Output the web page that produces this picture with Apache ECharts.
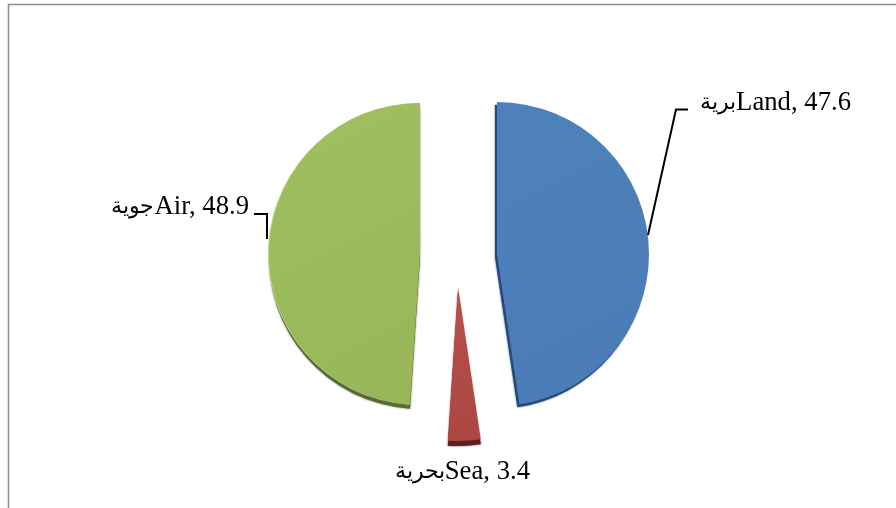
<!DOCTYPE html>
<html>
<head>
<meta charset="utf-8">
<style>html,body{margin:0;padding:0;background:#fff}#c{width:896px;height:508px}</style>
<script src="https://cdn.jsdelivr.net/npm/echarts@6/dist/echarts.min.js"></script>
</head>
<body>
<div id="c"></div>
<script>
var categoriesEn = ['Land', 'Sea', 'Air'];
var categoriesAr = ['برية', 'بحرية', 'جوية'];
var values = [47.6, 3.4, 48.9];

var faceColors = [['#4f81bd', '#4a7bb6'], ['#b9504d', '#ab4643'], ['#9fbf60', '#98b658']];
var edgeColors = ['#234a78', '#5e1f1d', '#566a35'];
var rimColors = [null, null, '#b9d67c'];
var centers = [[497, 254], [458, 287], [420, 254]];
var radii = [152, 154, 151];
var edgeShift = [[-2, 3], [0, 5], [0, 4]];
var labelPos = [
  {x: 851, y: 103, align: 'right', verticalAlign: 'middle'},
  {x: 530, y: 472, align: 'right', verticalAlign: 'middle'},
  {x: 249, y: 207, align: 'right', verticalAlign: 'middle'}
];
var leaders = [
  [[648, 235], [676, 109.5], [688, 109.5]],
  [[267, 239], [267, 214], [254, 214]]
];
var FONT = '"Liberation Serif","Times New Roman",serif';

function pieLayer(active, center, radius, style, withLabel) {
  return {
    type: 'pie',
    center: center,
    radius: [0, radius],
    startAngle: 90,
    clockwise: true,
    silent: true,
    animation: false,
    avoidLabelOverlap: false,
    labelLine: {show: false},
    labelLayout: withLabel ? labelPos[active] : undefined,
    emphasis: {disabled: true},
    data: categoriesEn.map(function (name, i) {
      return {
        name: name,
        value: values[i],
        itemStyle: i === active ? style : {color: 'rgba(0,0,0,0)'},
        label: {
          show: withLabel && i === active,
          formatter: '{ar|' + categoriesAr[i] + '}{la|' + name + ', ' + values[i] + '}',
          rich: {
            ar: {fontFamily: FONT, fontSize: 22, color: '#000'},
            la: {fontFamily: FONT, fontSize: 26.7, color: '#000'}
          }
        }
      };
    })
  };
}

var series = [];
categoriesEn.forEach(function (_, i) {
  var c = centers[i];
  var shift = edgeShift[i];
  series.push(pieLayer(i, [c[0] + shift[0], c[1] + shift[1]], radii[i], {
    color: edgeColors[i], shadowColor: edgeColors[i], shadowBlur: 2
  }, false));
  if (rimColors[i]) {
    series.push(pieLayer(i, [c[0] - 1, c[1]], radii[i], {color: rimColors[i]}, false));
  }
  series.push(pieLayer(i, c, radii[i], {
    color: {type: 'linear', x: 0, y: 0, x2: 1, y2: 1, colorStops: [
      {offset: 0, color: faceColors[i][0]},
      {offset: 1, color: faceColors[i][1]}
    ]}
  }, true));
});

var graphics = [{
  type: 'rect', silent: true,
  shape: {x: 8.5, y: 4.5, width: 1000, height: 1000},
  style: {fill: 'none', stroke: '#8c8c8c', lineWidth: 1.5}
}];
leaders.forEach(function (pts) {
  graphics.push({
    type: 'polyline', silent: true, z: 10,
    shape: {points: pts},
    style: {fill: 'none', stroke: '#000', lineWidth: 2}
  });
});

var chart = echarts.init(document.getElementById('c'));
chart.setOption({
  backgroundColor: '#fff',
  animation: false,
  graphic: graphics,
  series: series
});
</script>
</body>
</html>
